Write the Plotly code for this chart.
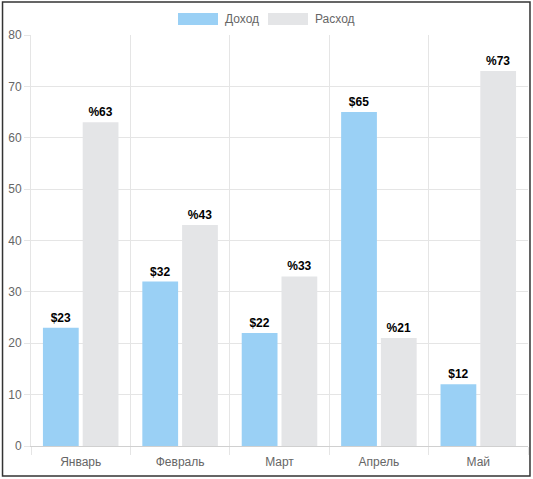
"""Bar chart: monthly income vs expense."""

import plotly.graph_objects as go


MONTHS = ["Январь", "Февраль", "Март", "Апрель", "Май"]
INCOME = [23, 32, 22, 65, 12]
EXPENSE = [63, 43, 33, 21, 73]
Y_TICKS = [0, 10, 20, 30, 40, 50, 60, 70, 80]

FONT = "Liberation Sans, Arial, Helvetica, sans-serif"
BLUE = "#9ad0f5"
GREY = "#e4e5e7"
GRID = "#e5e5e5"

fig = go.Figure()
fig.add_trace(go.Bar(
    x=MONTHS, y=INCOME, name="Доход",
    marker=dict(color=BLUE, line=dict(width=0)),
    text=["$" + str(v) for v in INCOME],
    textposition="outside",
    textfont=dict(family=FONT, size=12, color="#000", weight="bold"),
    cliponaxis=False,
))
fig.add_trace(go.Bar(
    x=MONTHS, y=EXPENSE, name="Расход",
    marker=dict(color=GREY, line=dict(width=0)),
    text=["%" + str(v) for v in EXPENSE],
    textposition="outside",
    textfont=dict(family=FONT, size=12, color="#000", weight="bold"),
    cliponaxis=False,
))

# chart.js style legend drawn by hand (wide colour boxes)
shapes = [
    dict(type="rect", xref="paper", yref="paper",
         x0=-0.0573, x1=1.004, y0=-0.073, y1=1.0803,
         line=dict(color="#333", width=1.5)),
]
legend_items = [("Доход", BLUE, 178), ("Расход", GREY, 268)]
annotations = []
for label, color, px in legend_items:
    x0 = (px - 31) / 497
    x1 = (px + 40 - 31) / 497
    shapes.append(dict(type="rect", xref="paper", yref="paper",
                       x0=x0, x1=x1,
                       y0=(446 - 25) / 411, y1=(446 - 13) / 411,
                       fillcolor=color, line=dict(width=0)))
    annotations.append(dict(xref="paper", yref="paper",
                            x=(px + 45 - 31) / 497, y=(446 - 19) / 411,
                            xanchor="left", yanchor="middle",
                            text=label, showarrow=False,
                            font=dict(family=FONT, size=12, color="#666")))

fig.update_layout(
    width=533, height=479,
    margin=dict(l=31, r=5, t=35, b=33),
    paper_bgcolor="white", plot_bgcolor="white",
    barmode="group", bargap=0.2, bargroupgap=0.1,
    showlegend=False,
    font=dict(family=FONT, size=12, color="#666"),
    shapes=shapes,
    annotations=annotations,
    xaxis=dict(
        tickson="boundaries", ticks="outside", ticklen=8, tickcolor=GRID,
        showgrid=True, gridcolor=GRID, showline=True, linecolor="#d0d0d0",
        range=[-0.5, 4.5], tickfont=dict(color="#666", size=12),
        ticklabelstandoff=5,
    ),
    yaxis=dict(
        range=[0, 80], tickvals=Y_TICKS, ticks="outside", ticklen=6,
        tickcolor=GRID, gridcolor=GRID, showline=True, linecolor=GRID,
        zeroline=False, tickfont=dict(color="#666", size=12),
    ),
)

fig.write_html("out.html", config={"displayModeBar": False},
               post_script="document.body.style.margin='0';")
